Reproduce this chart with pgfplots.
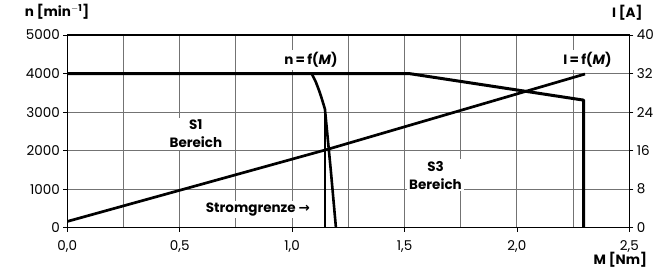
\documentclass[border=0pt]{standalone}
\usepackage{fontspec}
\setmainfont{Poppins}
\newfontfamily\symfont{DejaVu Sans}
\usepackage{pgfplots}
\pgfplotsset{compat=1.18}
\pgfplotsset{
  common/.style={
    scale only axis, width=562pt, height=192.7pt,
    xmin=0, xmax=2.5,
    tick align=outside,
    major tick length=4pt, minor tick length=0pt,
    tick style={black, line width=0.8pt},
    axis line style={line width=1.1pt},
    /pgf/number format/assume math mode=true,
    ticklabel style={font=\fontsize{13.5}{15}\selectfont},
  }
}
\begin{document}
\begin{tikzpicture}
\begin{axis}[common,
  ymin=0, ymax=5000,
  xtick={0,0.5,1,1.5,2,2.5},
  minor xtick={0.25,0.75,1.25,1.75,2.25},
  ytick={0,1000,2000,3000,4000,5000},
  xtick pos=left, ytick pos=left,
  grid=both,
  major grid style={black!55, line width=0.9pt},
  minor grid style={black!55, line width=0.9pt},
  xticklabel style={yshift=-5pt, /pgf/number format/.cd, use comma, fixed, fixed zerofill, precision=1},
  yticklabel style={/pgf/number format/.cd, 1000 sep={}},
  clip=false,
]
% speed n = f(M)
\addplot[line width=3pt, line join=round] coordinates {(0,4000) (1.52,4000) (2.297,3310) (2.297,0)};
\addplot[line width=2.6pt, line join=round] coordinates {(1.087,4000) (1.105,3790) (1.12,3560) (1.133,3330) (1.146,3080) (1.158,2350) (1.172,1500) (1.195,0)};
% Stromgrenze
\addplot[line width=2.6pt] coordinates {(1.146,3080) (1.146,0)};

\node[fill=white, inner sep=2pt, font=\bfseries\fontsize{13.5}{15}\selectfont] at (axis cs:1.084,4351) {n\,=\,f(\textit{M})};
\node[fill=white, inner sep=2pt, font=\bfseries\fontsize{13.5}{15}\selectfont] at (axis cs:2.314,4351) {I\,=\,f(\textit{M})};
\node[fill=white, inner sep=2pt, align=center, font=\bfseries\fontsize{13.5}{18}\selectfont] at (axis cs:0.572,2431) {S1\\Bereich};
\node[fill=white, inner sep=2pt, align=center, font=\bfseries\fontsize{13.5}{18}\selectfont] at (axis cs:1.638,1367) {S3\\Bereich};
\node[fill=white, inner sep=2pt, font=\bfseries\fontsize{13.5}{15}\selectfont] at (axis cs:0.848,477) {Stromgrenze {\symfont →}};

\node[anchor=west, xshift=-46pt, yshift=23pt, font=\bfseries\fontsize{13.5}{15}\selectfont] at (rel axis cs:0,1) {n [min$^{\mathbf{-1}}$]};
\node[xshift=-2pt, yshift=22pt, font=\bfseries\fontsize{13.5}{15}\selectfont] at (rel axis cs:1,1) {I [A]};
\node[xshift=-9pt, yshift=-32pt, font=\bfseries\fontsize{13.5}{15}\selectfont] at (rel axis cs:1,0) {M [Nm]};
\end{axis}
\begin{axis}[common,
  ymin=0, ymax=40,
  axis x line=none, axis y line*=right,
  ytick={0,8,16,24,32,40},
]
\addplot[line width=2.7pt, line join=round] coordinates {(0,1.3) (1.16,16.3) (2.303,31.9)};
\end{axis}
\pgfresetboundingbox
\path[use as bounding box] (-67.3pt,-40.3pt) rectangle (599.7pt,227.7pt);
\end{tikzpicture}
\end{document}
